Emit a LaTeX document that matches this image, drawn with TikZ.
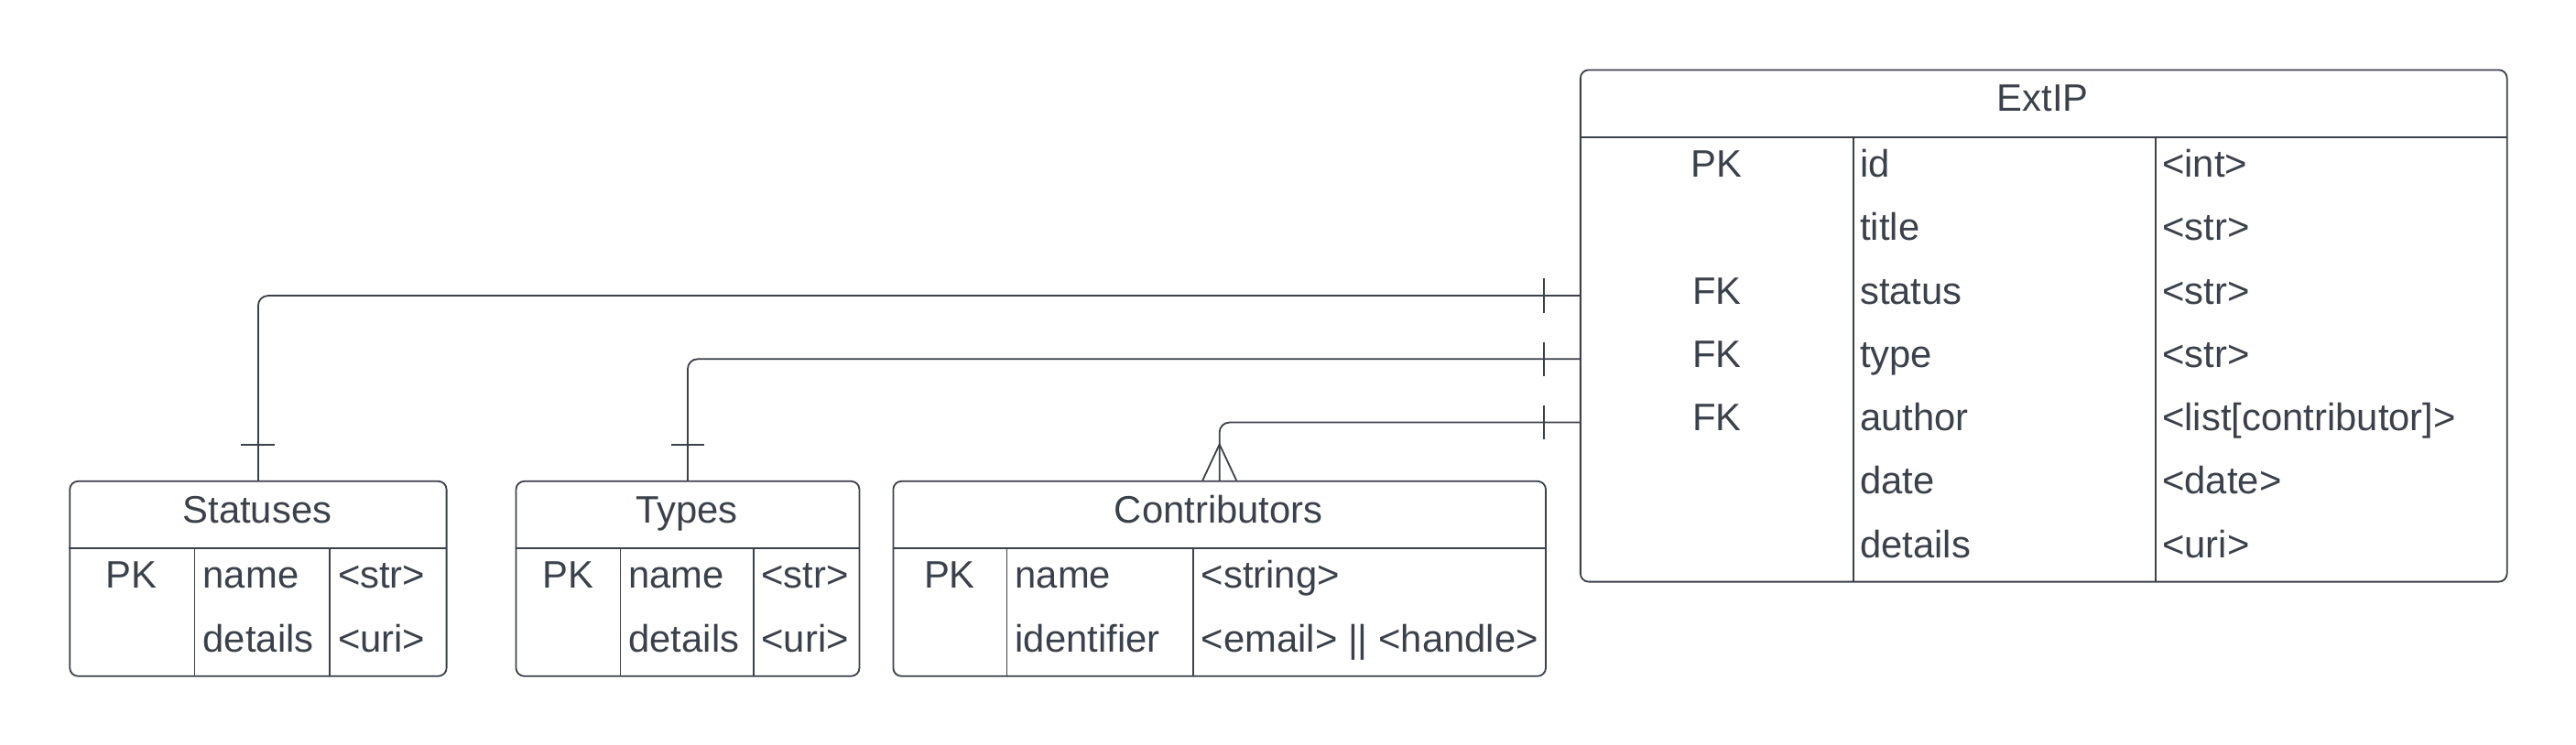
\documentclass[tikz,border=0pt]{standalone}
\usepackage{fontspec}
\setmainfont{Liberation Sans}
\definecolor{ink}{HTML}{3A414A}
\begin{document}
\begin{tikzpicture}[x=1pt,y=1pt,
  tbl/.style={draw=ink, line width=1pt, rounded corners=5pt, inner sep=0pt, anchor=north west},
  grid/.style={draw=ink, line width=1pt},
  txt/.style={inner sep=0pt, anchor=base, text=ink, font=\fontsize{23.3}{27}\selectfont},
  txtl/.style={txt, anchor=base west},
  conn/.style={draw=ink, line width=1pt, rounded corners=6pt},
  tick/.style={draw=ink, line width=1pt}]
\useasboundingbox (0,0) rectangle (1568,-453.7);

% ---------------- ExtIP ----------------
\node[tbl, minimum width=564pt, minimum height=311.7pt] (extip) at (961.5,-42.1) {};
\draw[grid] (961.5,-83.6) -- (1525.5,-83.6);
\draw[grid] (1128,-83.6) -- (1128,-353.8);
\draw[grid] (1312,-83.6) -- (1312,-353.8);
\node[txt] (extipT) at (1243.5,-67.9) {ExtIP};
\node[txt] (e1k) at (1045,-107.9) {PK};
\node[txtl] (e1n) at (1132,-107.9) {id};
\node[txtl] (e1t) at (1316,-107.9) {<int>};
\node[txtl] (e2n) at (1132,-146.5) {title};
\node[txtl] (e2t) at (1316,-146.5) {<str>};
\node[txt] (e3k) at (1045,-185.1) {FK};
\node[txtl] (e3n) at (1132,-185.1) {status};
\node[txtl] (e3t) at (1316,-185.1) {<str>};
\node[txt] (e4k) at (1045,-223.7) {FK};
\node[txtl] (e4n) at (1132,-223.7) {type};
\node[txtl] (e4t) at (1316,-223.7) {<str>};
\node[txt] (e5k) at (1045,-262.3) {FK};
\node[txtl] (e5n) at (1132,-262.3) {author};
\node[txtl] (e5t) at (1316,-262.3) {<list[contributor]>};
\node[txtl] (e6n) at (1132,-300.9) {date};
\node[txtl] (e6t) at (1316,-300.9) {<date>};
\node[txtl] (e7n) at (1132,-339.5) {details};
\node[txtl] (e7t) at (1316,-339.5) {<uri>};

% ---------------- Statuses ----------------
\node[tbl, minimum width=229.3pt, minimum height=118.7pt] (statuses) at (42,-292.6) {};
\draw[grid] (42,-334.1) -- (271.3,-334.1);
\draw[grid] (118.4,-334.1) -- (118.4,-411.3);
\draw[grid] (200.8,-334.1) -- (200.8,-411.3);
\node[txt] (sT) at (156.6,-318.4) {Statuses};
\node[txt] (s1k) at (80.2,-358.4) {PK};
\node[txtl] (s1n) at (123.4,-358.4) {name};
\node[txtl] (s1t) at (205.5,-358.4) {<str>};
\node[txtl] (s2n) at (123.4,-397.0) {details};
\node[txtl] (s2t) at (205.5,-397.0) {<uri>};

% ---------------- Types ----------------
\node[tbl, minimum width=209pt, minimum height=118.7pt] (types) at (313.6,-292.6) {};
\draw[grid] (313.6,-334.1) -- (522.6,-334.1);
\draw[grid] (377.6,-334.1) -- (377.6,-411.3);
\draw[grid] (458.6,-334.1) -- (458.6,-411.3);
\node[txt] (tT) at (418.1,-318.4) {Types};
\node[txt] (t1k) at (345.6,-358.4) {PK};
\node[txtl] (t1n) at (382.4,-358.4) {name};
\node[txtl] (t1t) at (463.3,-358.4) {<str>};
\node[txtl] (t2n) at (382.4,-397.0) {details};
\node[txtl] (t2t) at (463.3,-397.0) {<uri>};

% ---------------- Contributors ----------------
\node[tbl, minimum width=397.2pt, minimum height=118.7pt] (contrib) at (543.2,-292.6) {};
\draw[grid] (543.2,-334.1) -- (940.4,-334.1);
\draw[grid] (612.9,-334.1) -- (612.9,-411.3);
\draw[grid] (726.3,-334.1) -- (726.3,-411.3);
\node[txt] (cT) at (741.8,-318.4) {Contributors};
\node[txt] (c1k) at (578,-358.4) {PK};
\node[txtl] (c1n) at (617.7,-358.4) {name};
\node[txtl] (c1t) at (731,-358.4) {<string>};
\node[txtl] (c2n) at (617.7,-397.0) {identifier};
\node[txtl] (c2t) at (731,-397.0) {<email> || <handle>};

% ---------------- Connectors ----------------
\coordinate (aStatus) at (961.5,-180.1);
\coordinate (aType) at (961.5,-218.7);
\coordinate (aAuthor) at (961.5,-257.3);

\draw[conn] (aStatus) -| (statuses.north);
\draw[conn] (aType) -| (types.north);
\draw[conn] (aAuthor) -| (contrib.north);

% one-marks at ExtIP
\draw[tick] ([shift={(-21.8pt,10.5pt)}]aStatus) -- ++(0,-21);
\draw[tick] ([shift={(-21.8pt,10.5pt)}]aType) -- ++(0,-21);
\draw[tick] ([shift={(-21.8pt,10.5pt)}]aAuthor) -- ++(0,-21);
% one-marks at Statuses and Types
\draw[tick] ([shift={(-10.3pt,21.8pt)}]statuses.north) -- ++(20.6,0);
\draw[tick] ([shift={(-10.3pt,21.8pt)}]types.north) -- ++(20.6,0);
% crow's foot at Contributors
\draw[tick] ([xshift=-10.3pt]contrib.north) -- ([yshift=22pt]contrib.north) -- ([xshift=10.3pt]contrib.north);
\end{tikzpicture}
\end{document}
